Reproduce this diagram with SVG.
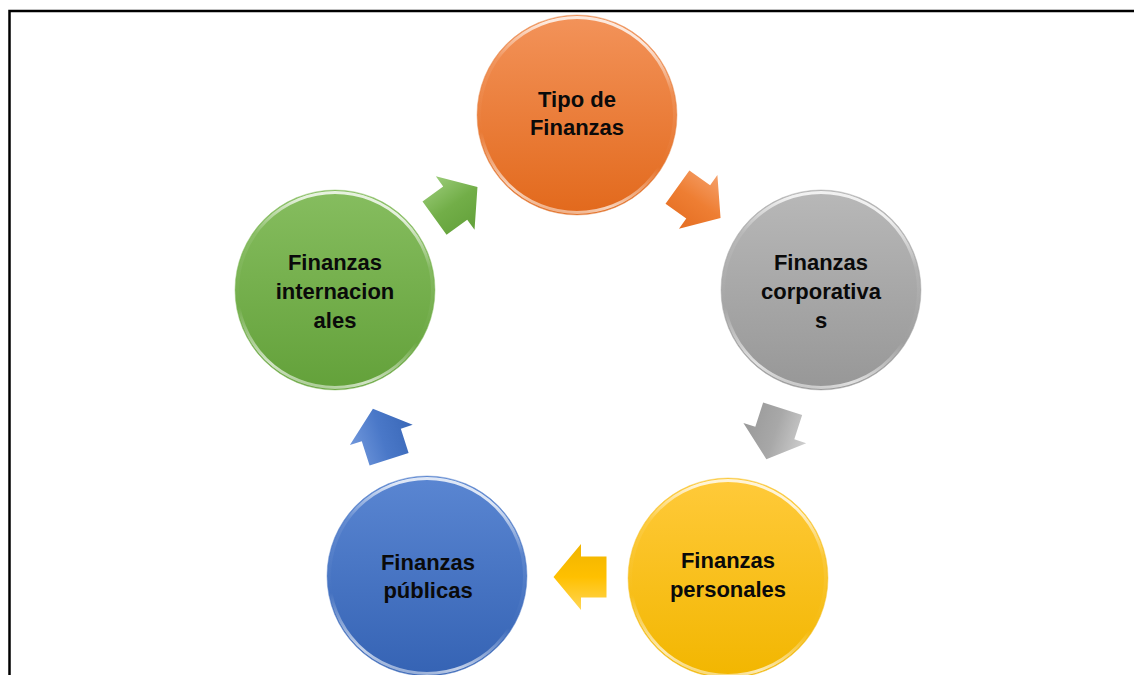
<svg xmlns="http://www.w3.org/2000/svg" width="1134" height="675" viewBox="0 0 1134 675">
<defs>
<style>
.lbl{font-family:"Liberation Sans",Arial,sans-serif;font-weight:bold;font-size:22px;fill:#0a0a0a;text-anchor:middle}
.rim{fill:none;stroke:url(#rimG);stroke-width:3}
.edge{fill:none;stroke-width:1;stroke-opacity:0.5}
</style>
<linearGradient id="gO" x1="0" y1="0" x2="0" y2="1"><stop offset="0" stop-color="#F3935A"/><stop offset="1" stop-color="#E2691C"/></linearGradient>
<linearGradient id="gG" x1="0" y1="0" x2="0" y2="1"><stop offset="0" stop-color="#B8B8B8"/><stop offset="1" stop-color="#979797"/></linearGradient>
<linearGradient id="gY" x1="0" y1="0" x2="0" y2="1"><stop offset="0" stop-color="#FFCA3A"/><stop offset="1" stop-color="#F2B600"/></linearGradient>
<linearGradient id="gB" x1="0" y1="0" x2="0" y2="1"><stop offset="0" stop-color="#5A86D2"/><stop offset="1" stop-color="#3563B4"/></linearGradient>
<linearGradient id="gV" x1="0" y1="0" x2="0" y2="1"><stop offset="0" stop-color="#86BD5F"/><stop offset="1" stop-color="#63A13A"/></linearGradient>
<linearGradient id="rimG" x1="0.2" y1="0" x2="0" y2="1">
<stop offset="0" stop-color="#fff" stop-opacity="0.8"/>
<stop offset="0.22" stop-color="#fff" stop-opacity="0.1"/>
<stop offset="0.6" stop-color="#fff" stop-opacity="0"/>
<stop offset="0.85" stop-color="#fff" stop-opacity="0.7"/>
<stop offset="1" stop-color="#fff" stop-opacity="0.2"/>
</linearGradient>
<linearGradient id="aO" x1="0" y1="0" x2="0" y2="1"><stop offset="0" stop-color="#F5A06A"/><stop offset="0.5" stop-color="#EE7E33"/><stop offset="1" stop-color="#E56E22"/></linearGradient>
<linearGradient id="aG" x1="0" y1="0" x2="0" y2="1"><stop offset="0" stop-color="#CFCFCF"/><stop offset="0.5" stop-color="#A8A8A8"/><stop offset="1" stop-color="#999"/></linearGradient>
<linearGradient id="aY" x1="0" y1="0" x2="0" y2="1"><stop offset="0" stop-color="#FFD655"/><stop offset="0.5" stop-color="#FFC000"/><stop offset="1" stop-color="#F0B400"/></linearGradient>
<linearGradient id="aB" x1="0" y1="0" x2="0" y2="1"><stop offset="0" stop-color="#7198DC"/><stop offset="0.5" stop-color="#4A78C8"/><stop offset="1" stop-color="#3A68B8"/></linearGradient>
<linearGradient id="aV" x1="0" y1="0" x2="0" y2="1"><stop offset="0" stop-color="#9ACB78"/><stop offset="0.5" stop-color="#72AE48"/><stop offset="1" stop-color="#63A13A"/></linearGradient>
<polygon id="arr" points="-26.5,-20.5 -1,-20.5 -1,-33 26.5,0 -1,33 -1,20.5 -26.5,20.5"/>
</defs>
<rect x="0" y="0" width="1134" height="675" fill="#fff"/>
<path d="M9.5,675 V11 H1134" fill="none" stroke="#000" stroke-width="2.5"/>

<g id="connectors">
<use href="#arr" fill="url(#aO)" transform="translate(699,202.5) rotate(35.6)"/>
<use href="#arr" fill="url(#aG)" transform="translate(774.5,434) rotate(107.9)"/>
<use href="#arr" fill="url(#aY)" transform="translate(580,577) rotate(180)"/>
<use href="#arr" fill="url(#aB)" transform="translate(381,434) rotate(-107.8)"/>
<use href="#arr" fill="url(#aV)" transform="translate(456,202.5) rotate(-35.9)"/>
</g>

<g id="n-tipo">
<circle cx="577" cy="115" r="100" fill="url(#gO)"/>
<circle cx="577" cy="115" r="97.5" class="rim"/>
<circle cx="577" cy="115" r="100" class="edge" stroke="#E8A070"/>
<text class="lbl" x="577" y="107">Tipo de</text>
<text class="lbl" x="577" y="135">Finanzas</text>
</g>

<g id="n-corporativas">
<circle cx="821" cy="290" r="100" fill="url(#gG)"/>
<circle cx="821" cy="290" r="97.5" class="rim"/>
<circle cx="821" cy="290" r="100" class="edge" stroke="#B0B0B0"/>
<text class="lbl" x="821" y="270">Finanzas</text>
<text class="lbl" x="821" y="299">corporativa</text>
<text class="lbl" x="821" y="328">s</text>
</g>

<g id="n-personales">
<circle cx="728" cy="578" r="100" fill="url(#gY)"/>
<circle cx="728" cy="578" r="97.5" class="rim"/>
<circle cx="728" cy="578" r="100" class="edge" stroke="#F5CC50"/>
<text class="lbl" x="728" y="568">Finanzas</text>
<text class="lbl" x="728" y="597">personales</text>
</g>

<g id="n-publicas">
<circle cx="427" cy="576" r="100" fill="url(#gB)"/>
<circle cx="427" cy="576" r="97.5" class="rim"/>
<circle cx="427" cy="576" r="100" class="edge" stroke="#6E92D0"/>
<text class="lbl" x="428" y="570">Finanzas</text>
<text class="lbl" x="428" y="598">públicas</text>
</g>

<g id="n-internacionales">
<circle cx="335" cy="290" r="100" fill="url(#gV)"/>
<circle cx="335" cy="290" r="97.5" class="rim"/>
<circle cx="335" cy="290" r="100" class="edge" stroke="#98C878"/>
<text class="lbl" x="335" y="270">Finanzas</text>
<text class="lbl" x="335" y="299">internacion</text>
<text class="lbl" x="335" y="328">ales</text>
</g>
</svg>
